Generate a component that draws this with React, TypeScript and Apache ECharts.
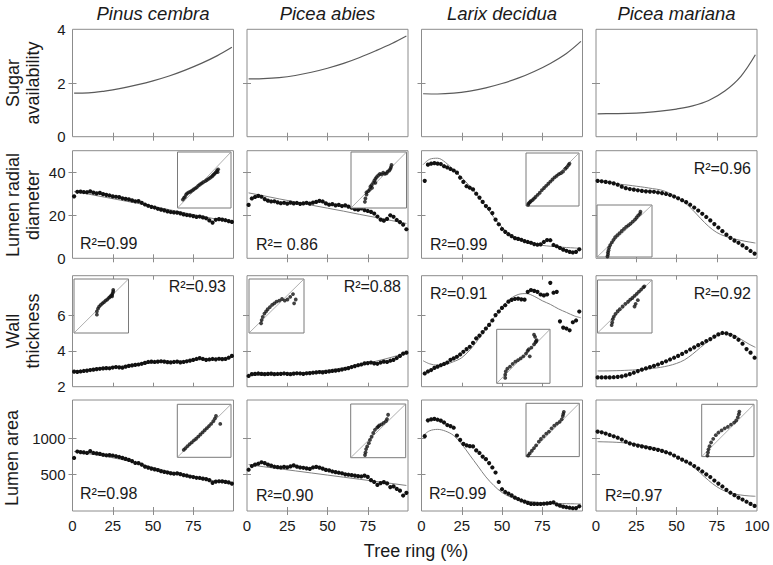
import React, { useEffect, useRef } from "react";
import * as echarts from "echarts";

// ---------- text ----------
const SPECIES = ["Pinus cembra", "Picea abies", "Larix decidua", "Picea mariana"];
const ROW_LABELS = [["Sugar", "availability"], ["Lumen radial", "diameter"], ["Wall", "thickness"], ["Lumen area"]];
const X_TITLE = "Tree ring (%)";

// ---------- axes ----------
const X_LABELS = [0, 25, 50, 75];
const X_LABELS_LAST = [0, 25, 50, 75, 100];
const X_INNER_TICKS = [25, 50, 75];
const Y_RANGES = [[0, 4], [0, 50], [2, 8.2], [0, 1530]];
const Y_LABELS = [[0, 2, 4], [0, 20, 40], [2, 4, 6], [500, 1000]];
const Y_INNER_TICKS = [[2], [20, 40], [4, 6], [500, 1000]];

// ---------- x positions (tree ring %) ----------
const X_DENSE = [1, 3, 5, 7, 9, 11, 13, 15, 17, 19, 21, 23, 25, 27, 29, 31, 33, 35, 37, 39, 41, 43, 45, 47, 49, 51, 53, 55, 57, 59, 61, 63, 65, 67, 69, 71, 73, 75, 77, 79, 81, 83, 85, 87, 89, 91, 93, 95, 97, 99];
const X_C3 = [2, 4, 6, 8, 10, 12, 14, 16, 18, 20, 22, 24, 26, 28, 30, 32, 34, 36, 38, 40, 42, 44, 46, 48, 50, 52, 54, 56, 58, 60, 62, 64, 66, 68, 70, 72, 74, 76, 78, 80, 82, 84, 86, 88, 90, 92, 94, 96, 98];
const X_C4 = [1, 3.5, 6, 8.5, 11, 13.5, 16, 18.5, 21, 23.5, 26, 28.5, 31, 33.5, 36, 38.5, 41, 43.5, 46, 48.5, 51, 53.5, 56, 58.5, 61, 63.5, 66, 68.5, 71, 73.5, 76, 78.5, 81, 83.5, 86, 88.5, 91, 93.5, 96, 98.5];
const X_COARSE = [1, 10, 20, 30, 40, 50, 60, 70, 80, 90, 99];
const X_CURVE = [1, 5, 10, 15, 20, 25, 30, 35, 40, 45, 50, 55, 60, 65, 70, 75, 80, 85, 90, 95, 99];

// ---------- row 1: sugar availability (model) ----------
const SUGAR_PC = [1.62, 1.63, 1.7, 1.8, 1.93, 2.08, 2.26, 2.48, 2.73, 3.02, 3.33];
const SUGAR_PA = [2.15, 2.16, 2.2, 2.28, 2.4, 2.55, 2.73, 2.95, 3.2, 3.47, 3.75];
const SUGAR_LD = [1.6, 1.59, 1.62, 1.7, 1.82, 1.98, 2.18, 2.43, 2.73, 3.1, 3.55];
const SUGAR_PM = [0.85, 0.86, 0.87, 0.9, 0.95, 1.03, 1.15, 1.35, 1.7, 2.25, 3.05];

// ---------- row 2: lumen radial diameter ----------
const LRD_PC = [28.8, 30.9, 31.0, 30.8, 30.7, 31.1, 30.5, 30.2, 30.4, 29.8, 29.5, 29.2, 28.8, 28.6, 28.4, 27.9, 27.6, 27.4, 26.9, 26.5, 26.6, 25.8, 25.0, 24.4, 23.9, 23.6, 23.0, 22.6, 22.3, 21.8, 21.5, 21.3, 21.2, 20.9, 20.4, 20.1, 19.9, 19.6, 19.2, 19.4, 19.0, 18.6, 17.6, 16.6, 17.9, 18.2, 18.0, 17.7, 17.3, 16.9];
const LRD_PC_FIT = [31.0, 29.8, 28.4, 27.0, 25.6, 24.1, 22.6, 21.1, 19.6, 18.1, 16.7];
const LRD_PA = [24.8, 27.8, 28.5, 29.0, 28.6, 27.5, 26.8, 26.4, 26.5, 26.0, 25.6, 25.8, 25.4, 25.9, 25.5, 25.7, 25.3, 25.5, 25.8, 25.4, 25.9, 26.2, 26.7, 26.4, 25.5, 24.9, 25.2, 24.6, 24.8, 24.3, 24.6, 24.0, 23.5, 22.8, 22.6, 23.2, 22.4, 22.0, 21.6, 20.8, 19.4, 18.0, 17.5, 18.3, 20.0, 19.3, 17.8, 16.8, 15.6, 13.5];
const LRD_PA_FIT = [30.4, 29.1, 27.6, 26.2, 24.7, 23.3, 21.9, 20.4, 19.0, 17.5, 16.2];
const LRD_LD = [36.0, 43.5, 44.0, 44.2, 44.0, 43.8, 42.8, 42.2, 41.5, 40.8, 39.8, 37.5, 35.5, 33.5, 32.8, 32.0, 30.0, 28.2, 26.2, 24.3, 23.0, 21.0, 18.0, 15.8, 13.6, 12.3, 11.2, 10.3, 9.4, 9.0, 8.6, 8.0, 7.6, 7.2, 6.6, 6.3, 6.5, 7.6, 8.5, 8.4, 6.2, 5.6, 4.8, 4.0, 3.5, 3.0, 2.7, 3.0, 4.2];
const LRD_LD_FIT = [43.5, 46.0, 46.5, 44.5, 41.0, 37.5, 33.5, 29.0, 24.0, 19.0, 14.5, 11.0, 8.8, 7.4, 6.5, 6.0, 5.6, 5.3, 5.0, 4.8, 4.6];
const LRD_PM = [36.0, 35.8, 35.5, 35.2, 34.8, 34.2, 33.3, 32.6, 32.2, 31.9, 31.6, 31.3, 31.1, 31.0, 30.9, 30.6, 30.3, 29.9, 29.4, 28.7, 27.9, 27.0, 26.1, 24.9, 23.6, 22.2, 20.7, 19.2, 17.6, 15.9, 14.3, 12.6, 11.0, 9.5, 8.2, 7.2, 6.0, 4.8, 3.4, 2.2];
const LRD_PM_FIT = [36.0, 35.6, 35.0, 34.4, 34.0, 33.5, 33.0, 32.4, 31.8, 30.5, 28.5, 26.0, 22.5, 18.5, 14.8, 12.0, 10.3, 9.2, 8.3, 7.6, 7.1];

// ---------- row 3: wall thickness ----------
const WT_PC = [2.84, 2.83, 2.85, 2.88, 2.9, 2.93, 2.95, 2.98, 3.0, 3.02, 3.04, 3.03, 3.07, 3.1, 3.08, 3.06, 3.12, 3.16, 3.19, 3.22, 3.24, 3.28, 3.33, 3.38, 3.4, 3.38, 3.4, 3.42, 3.4, 3.37, 3.36, 3.38, 3.4, 3.36, 3.38, 3.42, 3.46, 3.5, 3.55, 3.6, 3.55, 3.5, 3.52, 3.55, 3.53, 3.56, 3.54, 3.55, 3.62, 3.72];
const WT_PC_FIT = [2.84, 2.95, 3.05, 3.14, 3.24, 3.33, 3.39, 3.45, 3.51, 3.57, 3.63];
const WT_PA = [2.6, 2.7, 2.72, 2.74, 2.72, 2.7, 2.72, 2.73, 2.7, 2.71, 2.72, 2.74, 2.72, 2.7, 2.73, 2.75, 2.74, 2.72, 2.75, 2.76, 2.78, 2.8, 2.82, 2.8, 2.83, 2.85, 2.88, 2.9, 2.92, 2.96, 3.0, 3.04, 3.1, 3.15, 3.2, 3.24, 3.3, 3.32, 3.35, 3.3, 3.28, 3.35, 3.4, 3.38, 3.45, 3.5, 3.6, 3.72, 3.85, 3.9];
const WT_PA_FIT = [2.62, 2.64, 2.68, 2.74, 2.82, 2.93, 3.06, 3.22, 3.42, 3.65, 3.9];
const WT_LD = [2.74, 2.85, 2.93, 3.05, 3.12, 3.2, 3.27, 3.35, 3.5, 3.58, 3.67, 3.8, 3.95, 4.1, 4.23, 4.45, 4.7, 4.85, 5.05, 5.25, 5.45, 5.7, 6.0, 6.2, 6.4, 6.55, 6.75, 6.85, 6.9, 6.92, 6.88, 6.86, 7.3, 7.4, 7.35, 7.3, 7.15, 7.1, 7.15, 7.8, 7.25, 7.3, 5.65, 5.3, 5.25, 5.15, 5.6, 5.7, 6.2];
const WT_LD_FIT = [3.45, 3.28, 3.2, 3.25, 3.4, 3.62, 4.05, 4.6, 5.25, 5.85, 6.45, 6.9, 7.15, 7.2, 7.05, 6.8, 6.6, 6.35, 6.15, 5.95, 5.85];
const WT_PM = [2.52, 2.52, 2.52, 2.52, 2.53, 2.55, 2.58, 2.63, 2.7, 2.78, 2.87, 2.95, 3.02, 3.09, 3.16, 3.24, 3.33, 3.42, 3.52, 3.62, 3.72, 3.83, 3.95, 4.08, 4.2, 4.32, 4.43, 4.55, 4.66, 4.8, 4.92, 5.0, 4.98, 4.9, 4.78, 4.62, 4.4, 4.1, 3.9, 3.62];
const WT_PM_FIT = [2.88, 2.88, 2.89, 2.9, 2.92, 2.94, 2.97, 3.02, 3.08, 3.17, 3.3, 3.5, 3.82, 4.2, 4.55, 4.85, 4.98, 4.9, 4.65, 4.38, 4.2];

// ---------- row 4: lumen area ----------
const LA_PC = [731, 820, 812, 808, 800, 825, 800, 795, 788, 775, 768, 770, 765, 755, 745, 732, 718, 705, 688, 662, 660, 640, 612, 598, 585, 574, 565, 548, 538, 530, 520, 514, 518, 508, 495, 488, 475, 468, 458, 455, 446, 440, 425, 388, 405, 410, 408, 402, 395, 378];
const LA_PC_FIT = [820, 790, 755, 712, 660, 600, 545, 495, 448, 408, 372];
const LA_PA = [569, 620, 640, 652, 672, 660, 640, 625, 610, 605, 600, 608, 602, 615, 628, 612, 600, 596, 588, 580, 600, 608, 598, 585, 566, 560, 545, 535, 528, 520, 505, 500, 495, 488, 480, 476, 488, 470, 425, 400, 360, 385, 398, 380, 330, 340, 305, 280, 213, 250];
const LA_PA_FIT = [640, 611, 582, 553, 524, 495, 466, 437, 408, 379, 352];
const LA_LD = [1032, 1250, 1262, 1270, 1258, 1245, 1220, 1185, 1170, 1148, 1040, 980, 925, 905, 894, 890, 835, 800, 750, 715, 660, 600, 530, 400, 300, 262, 240, 215, 185, 165, 145, 130, 112, 98, 98, 97, 97, 100, 105, 111, 118, 90, 74, 60, 52, 45, 38, 40, 65];
const LA_LD_FIT = [1040, 1105, 1125, 1100, 1040, 920, 770, 620, 470, 350, 255, 195, 160, 138, 124, 115, 108, 104, 101, 99, 97];
const LA_PM = [1095, 1085, 1068, 1048, 1030, 1010, 985, 955, 932, 915, 902, 890, 878, 866, 855, 843, 828, 810, 792, 765, 735, 708, 682, 655, 620, 585, 545, 505, 468, 420, 378, 338, 292, 252, 218, 185, 158, 128, 98, 70];
const LA_PM_FIT = [955, 953, 950, 944, 935, 920, 900, 878, 850, 805, 750, 690, 615, 520, 420, 335, 275, 240, 220, 208, 203];

// ---------- insets: observed vs predicted (normalised) ----------
const DIAG = [[0, 0], [1, 1]];
const IN_LRD_PC = [[0.1, 0.15], [0.12, 0.18], [0.14, 0.2], [0.16, 0.24], [0.18, 0.26], [0.21, 0.28], [0.24, 0.29], [0.27, 0.31], [0.3, 0.33], [0.33, 0.35], [0.36, 0.37], [0.39, 0.4], [0.42, 0.42], [0.45, 0.44], [0.48, 0.46], [0.52, 0.48], [0.55, 0.5], [0.58, 0.52], [0.61, 0.54], [0.64, 0.56], [0.66, 0.58], [0.68, 0.6], [0.7, 0.62], [0.72, 0.64], [0.74, 0.67], [0.76, 0.69], [0.75, 0.64]];
const IN_LRD_PA = [[0.25, 0.11], [0.26, 0.17], [0.28, 0.24], [0.28, 0.28], [0.31, 0.3], [0.34, 0.33], [0.35, 0.38], [0.37, 0.41], [0.4, 0.45], [0.42, 0.49], [0.44, 0.52], [0.46, 0.55], [0.49, 0.58], [0.52, 0.61], [0.55, 0.6], [0.58, 0.63], [0.61, 0.61], [0.64, 0.62], [0.66, 0.65], [0.69, 0.67], [0.71, 0.7], [0.72, 0.73], [0.73, 0.77], [0.38, 0.36], [0.44, 0.45]];
const IN_LRD_LD = [[0.04, 0.02], [0.05, 0.05], [0.07, 0.07], [0.09, 0.09], [0.12, 0.11], [0.15, 0.14], [0.18, 0.17], [0.22, 0.21], [0.26, 0.25], [0.3, 0.3], [0.34, 0.34], [0.38, 0.38], [0.42, 0.42], [0.46, 0.46], [0.5, 0.5], [0.54, 0.54], [0.58, 0.57], [0.62, 0.6], [0.66, 0.62], [0.7, 0.65], [0.74, 0.7], [0.77, 0.73], [0.8, 0.77], [0.82, 0.8]];
const IN_LRD_PM = [[0.19, 0.01], [0.2, 0.05], [0.2, 0.09], [0.21, 0.13], [0.22, 0.18], [0.24, 0.23], [0.27, 0.28], [0.3, 0.33], [0.33, 0.38], [0.37, 0.42], [0.41, 0.46], [0.45, 0.5], [0.49, 0.54], [0.53, 0.58], [0.57, 0.61], [0.61, 0.64], [0.65, 0.68], [0.69, 0.72], [0.72, 0.76], [0.75, 0.8], [0.78, 0.83], [0.79, 0.87]];
const IN_WT_PC = [[0.42, 0.34], [0.42, 0.4], [0.44, 0.45], [0.46, 0.49], [0.49, 0.52], [0.52, 0.55], [0.55, 0.57], [0.58, 0.6], [0.61, 0.62], [0.64, 0.65], [0.66, 0.67], [0.68, 0.69], [0.7, 0.71], [0.71, 0.74], [0.72, 0.77], [0.72, 0.8], [0.7, 0.68]];
const IN_WT_PA = [[0.22, 0.18], [0.23, 0.24], [0.25, 0.3], [0.28, 0.36], [0.31, 0.4], [0.34, 0.44], [0.38, 0.48], [0.42, 0.52], [0.46, 0.55], [0.5, 0.58], [0.55, 0.6], [0.6, 0.63], [0.65, 0.6], [0.7, 0.62], [0.75, 0.67], [0.8, 0.72], [0.85, 0.62], [0.82, 0.55]];
const IN_WT_LD = [[0.16, 0.1], [0.16, 0.16], [0.17, 0.22], [0.2, 0.27], [0.25, 0.31], [0.3, 0.36], [0.35, 0.4], [0.4, 0.43], [0.45, 0.46], [0.5, 0.5], [0.55, 0.55], [0.58, 0.6], [0.6, 0.63], [0.62, 0.5], [0.65, 0.66], [0.7, 0.72], [0.73, 0.76], [0.75, 0.8], [0.72, 0.86], [0.7, 0.9], [0.74, 0.78]];
const IN_WT_PM = [[0.26, 0.15], [0.27, 0.2], [0.28, 0.26], [0.3, 0.31], [0.33, 0.36], [0.37, 0.41], [0.41, 0.45], [0.46, 0.5], [0.51, 0.55], [0.56, 0.59], [0.6, 0.63], [0.64, 0.66], [0.68, 0.7], [0.72, 0.74], [0.76, 0.78], [0.8, 0.82], [0.84, 0.86], [0.86, 0.88], [0.68, 0.5], [0.74, 0.62], [0.7, 0.55]];
const IN_LA_PC = [[0.12, 0.14], [0.15, 0.17], [0.19, 0.21], [0.23, 0.25], [0.27, 0.28], [0.31, 0.32], [0.35, 0.35], [0.39, 0.39], [0.43, 0.43], [0.47, 0.47], [0.51, 0.51], [0.55, 0.55], [0.59, 0.59], [0.63, 0.63], [0.67, 0.68], [0.7, 0.73], [0.72, 0.78], [0.8, 0.63]];
const IN_LA_PA = [[0.26, 0.05], [0.27, 0.1], [0.28, 0.16], [0.3, 0.21], [0.33, 0.27], [0.35, 0.33], [0.38, 0.39], [0.41, 0.46], [0.44, 0.52], [0.48, 0.56], [0.52, 0.6], [0.56, 0.62], [0.6, 0.65], [0.64, 0.68], [0.66, 0.72], [0.68, 0.8], [0.5, 0.58]];
const IN_LA_LD = [[0.04, 0.02], [0.07, 0.06], [0.11, 0.11], [0.15, 0.16], [0.19, 0.21], [0.24, 0.28], [0.28, 0.33], [0.33, 0.38], [0.38, 0.43], [0.43, 0.47], [0.48, 0.53], [0.53, 0.58], [0.58, 0.62], [0.63, 0.65], [0.67, 0.7], [0.69, 0.76], [0.7, 0.8], [0.71, 0.84]];
const IN_LA_PM = [[0.11, 0.02], [0.12, 0.08], [0.13, 0.14], [0.15, 0.2], [0.18, 0.27], [0.22, 0.34], [0.27, 0.41], [0.32, 0.46], [0.38, 0.5], [0.44, 0.54], [0.5, 0.57], [0.56, 0.61], [0.62, 0.65], [0.66, 0.69], [0.69, 0.75], [0.71, 0.81], [0.72, 0.86]];

// ---------- panel definitions ----------
type PanelDef = { pts?: [number[], number[]]; fit: [number[], number[]]; smooth: boolean; r2?: string; inset?: number[][] };
const PANELS: PanelDef[][] = [
  [
    { fit: [X_COARSE, SUGAR_PC], smooth: true },
    { fit: [X_COARSE, SUGAR_PA], smooth: true },
    { fit: [X_COARSE, SUGAR_LD], smooth: true },
    { fit: [X_COARSE, SUGAR_PM], smooth: true },
  ],
  [
    { pts: [X_DENSE, LRD_PC], fit: [X_COARSE, LRD_PC_FIT], smooth: false, r2: "R²=0.99", inset: IN_LRD_PC },
    { pts: [X_DENSE, LRD_PA], fit: [X_COARSE, LRD_PA_FIT], smooth: false, r2: "R²= 0.86", inset: IN_LRD_PA },
    { pts: [X_C3, LRD_LD], fit: [X_CURVE, LRD_LD_FIT], smooth: true, r2: "R²=0.99", inset: IN_LRD_LD },
    { pts: [X_C4, LRD_PM], fit: [X_CURVE, LRD_PM_FIT], smooth: true, r2: "R²=0.96", inset: IN_LRD_PM },
  ],
  [
    { pts: [X_DENSE, WT_PC], fit: [X_COARSE, WT_PC_FIT], smooth: false, r2: "R²=0.93", inset: IN_WT_PC },
    { pts: [X_DENSE, WT_PA], fit: [X_COARSE, WT_PA_FIT], smooth: true, r2: "R²=0.88", inset: IN_WT_PA },
    { pts: [X_C3, WT_LD], fit: [X_CURVE, WT_LD_FIT], smooth: true, r2: "R²=0.91", inset: IN_WT_LD },
    { pts: [X_C4, WT_PM], fit: [X_CURVE, WT_PM_FIT], smooth: true, r2: "R²=0.92", inset: IN_WT_PM },
  ],
  [
    { pts: [X_DENSE, LA_PC], fit: [X_COARSE, LA_PC_FIT], smooth: false, r2: "R²=0.98", inset: IN_LA_PC },
    { pts: [X_DENSE, LA_PA], fit: [X_COARSE, LA_PA_FIT], smooth: false, r2: "R²=0.90", inset: IN_LA_PA },
    { pts: [X_C3, LA_LD], fit: [X_CURVE, LA_LD_FIT], smooth: true, r2: "R²=0.99", inset: IN_LA_LD },
    { pts: [X_C4, LA_PM], fit: [X_CURVE, LA_PM_FIT], smooth: true, r2: "R²=0.97", inset: IN_LA_PM },
  ],
];

// ---------- layout (pixels) ----------
const COL_LEFT = [72.5, 247, 421.5, 596];
const PANEL_W = 161;
const ROW_TOP = [29.3, 150.7, 275.7, 400];
const ROW_H = [107.4, 107.6, 111, 111];
// [x, y, align] of R² texts
const R2_POS: any[][] = [
  [],
  [[80, 243, "left"], [256, 244, "left"], [430, 244, "left"], [751, 168, "right"]],
  [[226, 286, "right"], [401, 286, "right"], [430, 293, "left"], [751, 293, "right"]],
  [[80, 493, "left"], [256, 495, "left"], [429, 493, "left"], [605, 495, "left"]],
];
// [left, top, width, height] of insets
const INSET_BOX: number[][][] = [
  [],
  [[177.5, 152, 53.5, 56], [351, 152, 55.5, 56], [526, 153, 53, 53], [597, 205, 55, 52]],
  [[74, 279, 54.5, 54], [249, 279, 55, 54], [496.7, 329.3, 53.3, 54], [597.5, 280, 54.5, 53]],
  [[177.3, 404.3, 53.7, 53], [350.7, 404, 55, 53.7], [526, 403.3, 53.3, 53.3], [701.7, 404.3, 52.3, 52.3]],
];
const ROW_LABEL_POS = [[[13, 83], [33, 83]], [[13, 205], [33, 205]], [[13, 331], [33, 331]], [[12, 458]]];

const FONT = '"Liberation Sans", Arial, Helvetica, sans-serif';
const FRAME = "#8c8c8c";
const INK = "#1a1a1a";

const zip = (xs: number[], ys: number[]) => xs.map((x, i) => [x, ys[i]]).filter((p) => p[1] !== undefined);

function buildOption() {
  const grids: any[] = [];
  const xAxes: any[] = [];
  const yAxes: any[] = [];
  const series: any[] = [];
  const elements: any[] = [];

  const tickCfg = (vals: number[]) => ({ show: true, inside: true, length: 4, lineStyle: { color: FRAME, width: 1 }, customValues: vals });

  PANELS.forEach((row, r) =>
    row.forEach((p, c) => {
      const gi = grids.length;
      grids.push({ left: COL_LEFT[c], top: ROW_TOP[r], width: PANEL_W, height: ROW_H[r], show: true, borderColor: FRAME, borderWidth: 1, backgroundColor: "transparent" });
      const xi = xAxes.length;
      const lab = { fontSize: 15, color: INK, fontFamily: FONT, margin: 7, formatter: (v: number) => String(v) };
      xAxes.push({ type: "value", gridIndex: gi, position: "bottom", min: 0, max: 100, axisLine: { show: false }, splitLine: { show: false }, axisTick: tickCfg(X_INNER_TICKS), axisLabel: { show: r === 3, customValues: c === 3 ? X_LABELS_LAST : X_LABELS, ...lab } });
      xAxes.push({ type: "value", gridIndex: gi, position: "top", min: 0, max: 100, axisLine: { show: false }, splitLine: { show: false }, axisTick: tickCfg(X_INNER_TICKS), axisLabel: { show: false } });
      const yi = yAxes.length;
      yAxes.push({ type: "value", gridIndex: gi, position: "left", min: Y_RANGES[r][0], max: Y_RANGES[r][1], axisLine: { show: false }, splitLine: { show: false }, axisTick: tickCfg(Y_INNER_TICKS[r]), axisLabel: { show: c === 0, customValues: Y_LABELS[r], ...lab } });
      yAxes.push({ type: "value", gridIndex: gi, position: "right", min: Y_RANGES[r][0], max: Y_RANGES[r][1], axisLine: { show: false }, splitLine: { show: false }, axisTick: tickCfg(Y_INNER_TICKS[r]), axisLabel: { show: false } });

      series.push({
        type: "line", xAxisIndex: xi, yAxisIndex: yi, data: zip(p.fit[0], p.fit[1]), smooth: p.smooth ? 0.35 : false,
        showSymbol: false, symbol: "none", silent: true, z: 2,
        lineStyle: { color: r === 0 ? "#5a5a5a" : "#808080", width: r === 0 ? 1.2 : 1 },
      });
      if (p.pts) {
        series.push({ type: "scatter", xAxisIndex: xi, yAxisIndex: yi, data: zip(p.pts[0], p.pts[1]), symbolSize: 4.2, silent: true, z: 3, itemStyle: { color: "#111", opacity: 1 } });
      }
      if (p.r2) {
        const [x, y, align] = R2_POS[r][c];
        elements.push({ type: "text", x, y, silent: true, style: { text: p.r2, font: `16px ${FONT}`, fill: INK, textAlign: align, textVerticalAlign: "middle", align, verticalAlign: "middle" } });
      }
    })
  );

  // insets
  PANELS.forEach((row, r) =>
    row.forEach((p, c) => {
      if (!p.inset) return;
      const [l, t, w, h] = INSET_BOX[r][c];
      const gi = grids.length;
      grids.push({ left: l, top: t, width: w, height: h, show: true, borderColor: "#7a7a7a", borderWidth: 1, backgroundColor: "#ffffff", z: 4 });
      const xi = xAxes.length;
      xAxes.push({ type: "value", gridIndex: gi, min: 0, max: 1, show: false });
      const yi = yAxes.length;
      yAxes.push({ type: "value", gridIndex: gi, min: 0, max: 1, show: false });
      series.push({ type: "line", xAxisIndex: xi, yAxisIndex: yi, data: DIAG, showSymbol: false, symbol: "none", silent: true, z: 5, lineStyle: { color: "#9a9a9a", width: 0.8 } });
      series.push({ type: "scatter", xAxisIndex: xi, yAxisIndex: yi, data: p.inset, symbolSize: 3.8, silent: true, z: 6, itemStyle: { color: "#111" } });
    })
  );

  // titles
  SPECIES.forEach((s, c) => {
    elements.push({ type: "text", x: COL_LEFT[c] + PANEL_W / 2, y: 13, silent: true, style: { text: s, font: `italic 18.5px ${FONT}`, fill: INK, textAlign: "center", textVerticalAlign: "middle", align: "center", verticalAlign: "middle" } });
  });
  // row labels
  ROW_LABELS.forEach((lines, r) => {
    lines.forEach((txt, k) => {
      const [x, y] = ROW_LABEL_POS[r][k];
      elements.push({ type: "text", x, y, rotation: Math.PI / 2, silent: true, style: { text: txt, font: `18px ${FONT}`, fill: INK, textAlign: "center", textVerticalAlign: "middle", align: "center", verticalAlign: "middle" } });
    });
  });
  // x title
  elements.push({ type: "text", x: 416, y: 551, silent: true, style: { text: X_TITLE, font: `18px ${FONT}`, fill: INK, textAlign: "center", textVerticalAlign: "middle", align: "center", verticalAlign: "middle" } });

  return {
    animation: false,
    backgroundColor: "#ffffff",
    grid: grids,
    xAxis: xAxes,
    yAxis: yAxes,
    series,
    graphic: { elements },
  };
}

export default function App() {
  const ref = useRef<HTMLDivElement>(null);
  useEffect(() => {
    if (!ref.current) return;
    const chart = echarts.init(ref.current, undefined, { renderer: "svg" });
    chart.setOption(buildOption() as any);
    return () => chart.dispose();
  }, []);
  return <div ref={ref} style={{ position: "fixed", left: 0, top: 0, width: 773, height: 565, background: "#fff" }} />;
}
